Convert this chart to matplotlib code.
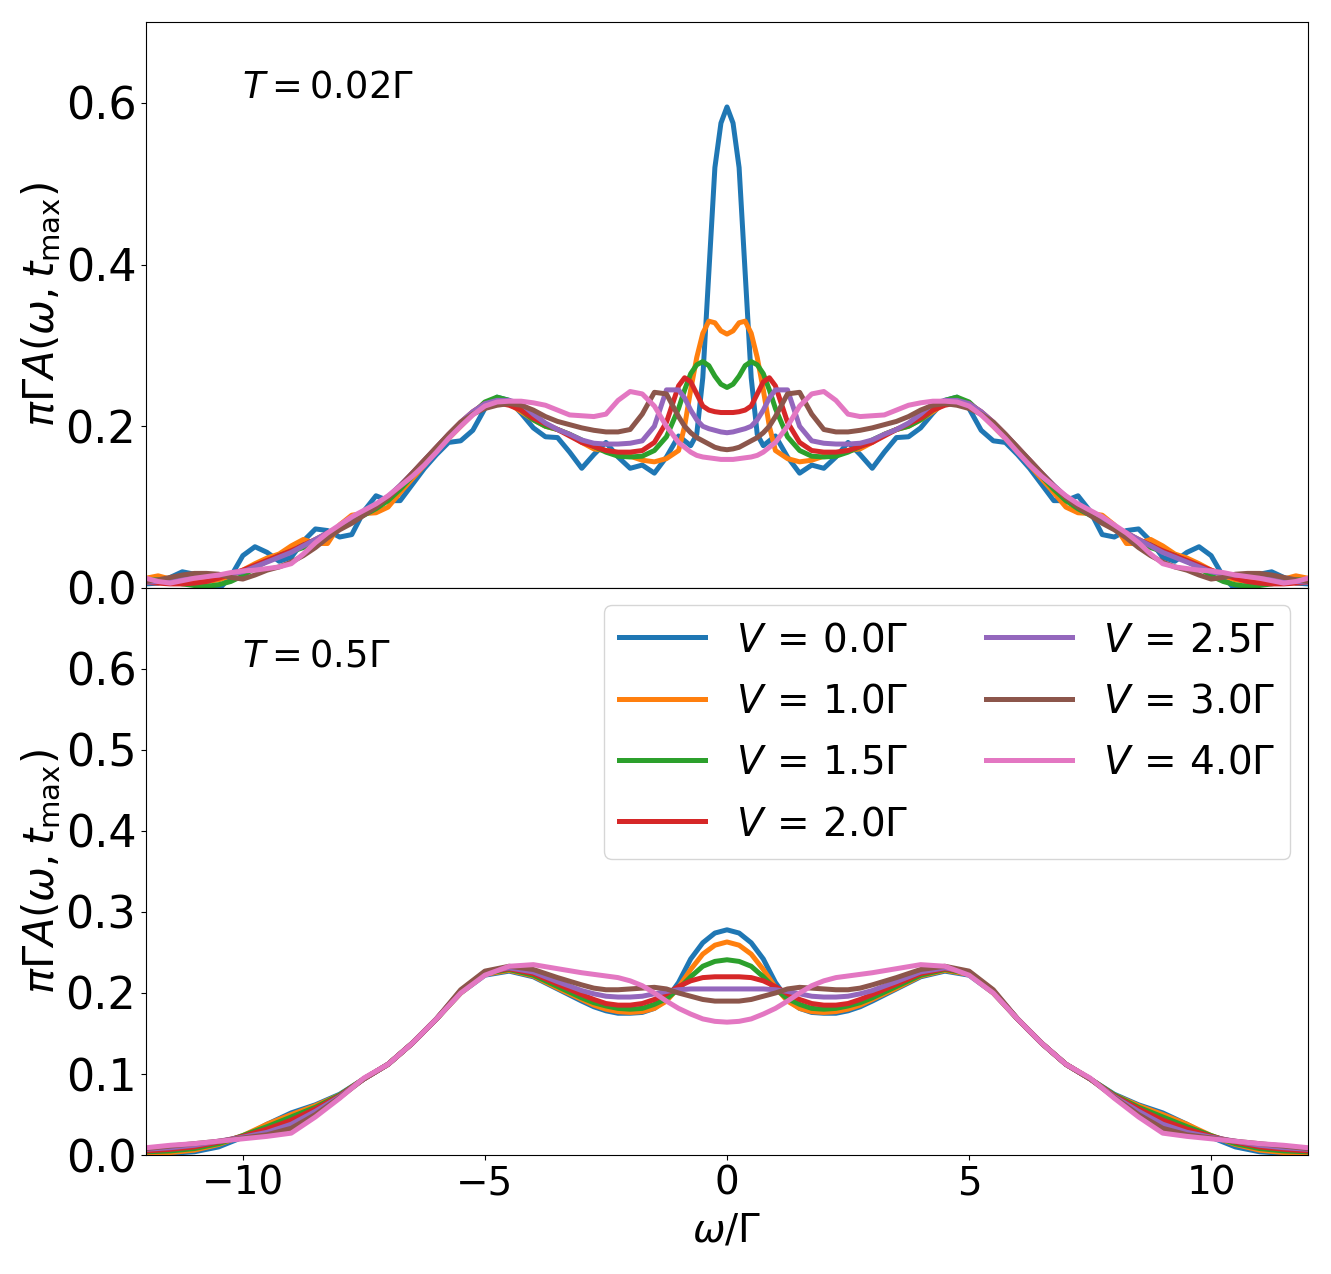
import numpy as np
import matplotlib
matplotlib.use('Agg')
import matplotlib.pyplot as plt

# frequency grids (omega / Gamma)
omega_top = np.r_[np.arange(-12, -1, 0.25), np.arange(-1, 1.0001, 0.125), np.arange(1.25, 12.0001, 0.25)]
omega_bot = np.r_[np.arange(-12, -3, 0.5), np.arange(-3, 3.0001, 0.25), np.arange(3.5, 12.0001, 0.5)]

v_labels = [r'$V\,=\,0.0\Gamma$', r'$V\,=\,1.0\Gamma$', r'$V\,=\,1.5\Gamma$', r'$V\,=\,2.0\Gamma$',
            r'$V\,=\,2.5\Gamma$', r'$V\,=\,3.0\Gamma$', r'$V\,=\,4.0\Gamma$']

# T = 0.02 Gamma
top_v00 = [.005, .006, .013, .020, .017, .004, -.002, .014, .040, .051, .044, .033, .038, .058, .073, .071,
           .063, .066, .095, .114, .108, .108, .128, .148, .165, .180, .182, .195, .222, .236, .232, .216,
           .198, .187, .186, .168, .148, .165, .180, .162, .148, .152, .142, .162,
           .188, .182, .176, .190, .260, .390, .520, .575, .595, .575, .520, .390, .260, .190, .176, .182, .188,
           .162, .142, .152, .148, .162, .180, .165, .148, .168, .186, .187, .198, .216, .232, .236, .222,
           .195, .182, .180, .165, .148, .128, .108, .108, .114, .095, .066, .063, .071, .073, .058, .038,
           .033, .044, .051, .040, .014, -.002, .004, .017, .020, .013, .006, .005]
top_v10 = [.012, .015, .011, .008, .008, .008, .010, .015, .022, .030, .037, .042, .052, .060, .055, .055,
           .078, .090, .092, .093, .100, .118, .135, .152, .170, .185, .200, .215, .228, .232, .228, .218,
           .208, .200, .196, .190, .180, .172, .170, .167, .163, .158, .156, .160,
           .170, .200, .245, .285, .315, .330, .328, .318, .314, .318, .328, .330, .315, .285, .245, .200, .170,
           .160, .156, .158, .163, .167, .170, .172, .180, .190, .196, .200, .208, .218, .228, .232, .228,
           .215, .200, .185, .170, .152, .135, .118, .100, .093, .092, .090, .078, .055, .055, .060, .052,
           .042, .037, .030, .022, .015, .010, .008, .008, .008, .011, .015, .012]
top_v15 = [.010, .010, .008, .005, .003, .002, .004, .008, .015, .025, .033, .040, .045, .050, .058, .066,
           .074, .082, .090, .098, .108, .122, .138, .155, .172, .188, .203, .216, .230, .236, .232, .220,
           .208, .200, .196, .190, .183, .175, .168, .163, .162, .163, .170, .187,
           .222, .245, .265, .276, .280, .275, .262, .252, .248, .252, .262, .275, .280, .276, .265, .245, .222,
           .187, .170, .163, .162, .163, .168, .175, .183, .190, .196, .200, .208, .220, .232, .236, .230,
           .216, .203, .188, .172, .155, .138, .122, .108, .098, .090, .082, .074, .066, .058, .050, .045,
           .040, .033, .025, .015, .008, .004, .002, .003, .005, .008, .010, .010]
top_v20 = [.007, .006, .005, .005, .006, .008, .012, .017, .022, .028, .034, .040, .046, .053, .060, .068,
           .075, .085, .094, .102, .112, .126, .142, .158, .174, .190, .205, .218, .228, .229, .226, .220,
           .210, .203, .196, .188, .180, .175, .170, .168, .168, .170, .180, .205,
           .250, .260, .255, .240, .225, .220, .218, .217, .217, .217, .218, .220, .225, .240, .255, .260, .250,
           .205, .180, .170, .168, .168, .170, .175, .180, .188, .196, .203, .210, .220, .226, .229, .228,
           .218, .205, .190, .174, .158, .142, .126, .112, .102, .094, .085, .075, .068, .060, .053, .046,
           .040, .034, .028, .022, .017, .012, .008, .006, .005, .005, .006, .007]
top_v25 = [.007, .008, .010, .012, .014, .015, .016, .017, .020, .026, .032, .038, .044, .052, .060, .068,
           .076, .085, .094, .103, .113, .127, .142, .158, .174, .190, .205, .218, .228, .232, .232, .228,
           .215, .204, .196, .190, .183, .179, .178, .178, .179, .182, .200, .245,
           .245, .235, .220, .208, .200, .197, .195, .193, .192, .193, .195, .197, .200, .208, .220, .235, .245,
           .245, .200, .182, .179, .178, .178, .179, .183, .190, .196, .204, .215, .228, .232, .232, .228,
           .218, .205, .190, .174, .158, .142, .127, .113, .103, .094, .085, .076, .068, .060, .052, .044,
           .038, .032, .026, .020, .017, .016, .015, .014, .012, .010, .008, .007]
top_v30 = [.008, .010, .013, .016, .018, .018, .017, .013, .011, .016, .022, .026, .032, .040, .050, .062,
           .072, .080, .090, .100, .112, .126, .142, .158, .174, .190, .205, .215, .222, .226, .228, .226,
           .220, .212, .206, .202, .198, .195, .193, .193, .196, .215, .242, .240,
           .212, .200, .192, .186, .182, .178, .174, .172, .171, .172, .174, .178, .182, .186, .192, .200, .212,
           .240, .242, .215, .196, .193, .193, .195, .198, .202, .206, .212, .220, .226, .228, .226, .222,
           .215, .205, .190, .174, .158, .142, .126, .112, .100, .090, .080, .072, .062, .050, .040, .032,
           .026, .022, .016, .011, .013, .017, .018, .018, .016, .013, .010, .008]
top_v40 = [.012, .008, .006, .009, .012, .014, .016, .019, .021, .022, .024, .026, .030, .042, .056, .068,
           .078, .088, .096, .104, .114, .126, .138, .152, .168, .185, .200, .214, .225, .230, .231, .231,
           .229, .226, .220, .214, .213, .212, .215, .232, .243, .240, .225, .200,
           .180, .174, .168, .164, .162, .161, .160, .159, .159, .159, .160, .161, .162, .164, .168, .174, .180,
           .200, .225, .240, .243, .232, .215, .212, .213, .214, .220, .226, .229, .231, .231, .230, .225,
           .214, .200, .185, .168, .152, .138, .126, .114, .104, .096, .088, .078, .068, .056, .042, .030,
           .026, .024, .022, .021, .019, .016, .014, .012, .009, .006, .008, .012]

# T = 0.5 Gamma
bot_v00 = [.001, .002, .004, .010, .022, .038, .052, .062, .075, .094, .112, .138, .168, .200, .222, .227, .220, .205,
           .190, .183, .178, .175, .175, .176, .181, .192, .213, .242, .262, .274, .278,
           .274, .262, .242, .213, .192, .181, .176, .175, .175, .178, .183, .190,
           .205, .220, .227, .222, .200, .168, .138, .112, .094, .075, .062, .052, .038, .022, .010, .004, .002, .001]
bot_v10 = [.002, .003, .006, .013, .024, .038, .050, .061, .074, .094, .112, .138, .168, .200, .223, .228, .221, .206,
           .192, .185, .180, .177, .176, .177, .181, .190, .207, .229, .248, .259, .263,
           .259, .248, .229, .207, .190, .181, .177, .176, .177, .180, .185, .192,
           .206, .221, .228, .223, .200, .168, .138, .112, .094, .074, .061, .050, .038, .024, .013, .006, .003, .002]
bot_v15 = [.004, .005, .008, .014, .024, .035, .047, .059, .074, .094, .112, .138, .168, .201, .224, .229, .222, .208,
           .194, .188, .184, .181, .180, .181, .186, .193, .205, .220, .233, .239, .241,
           .239, .233, .220, .205, .193, .186, .181, .180, .181, .184, .188, .194,
           .208, .222, .229, .224, .201, .168, .138, .112, .094, .074, .059, .047, .035, .024, .014, .008, .005, .004]
bot_v20 = [.005, .007, .010, .016, .023, .032, .043, .057, .073, .094, .112, .138, .168, .202, .225, .230, .224, .211,
           .198, .192, .187, .185, .185, .187, .192, .199, .208, .215, .219, .220, .220,
           .220, .219, .215, .208, .199, .192, .187, .185, .185, .187, .192, .198,
           .211, .224, .230, .225, .202, .168, .138, .112, .094, .073, .057, .043, .032, .023, .016, .010, .007, .005]
bot_v25 = [.007, .009, .012, .017, .022, .028, .038, .054, .072, .094, .112, .138, .168, .203, .226, .231, .226, .214,
           .203, .199, .196, .195, .195, .196, .199, .202, .204, .205, .205, .205, .205,
           .205, .205, .205, .204, .202, .199, .196, .195, .195, .196, .199, .203,
           .214, .226, .231, .226, .203, .168, .138, .112, .094, .072, .054, .038, .028, .022, .017, .012, .009, .007]
bot_v30 = [.008, .011, .014, .017, .021, .025, .033, .050, .071, .094, .112, .138, .168, .204, .227, .233, .229, .219,
           .210, .206, .204, .204, .205, .206, .207, .205, .200, .196, .192, .190, .190,
           .190, .192, .196, .200, .205, .207, .206, .205, .204, .204, .206, .210,
           .219, .229, .233, .227, .204, .168, .138, .112, .094, .071, .050, .033, .025, .021, .017, .014, .011, .008]
bot_v40 = [.009, .012, .014, .017, .020, .023, .027, .047, .070, .095, .112, .138, .168, .200, .222, .233, .235, .230,
           .225, .223, .221, .219, .215, .209, .200, .190, .181, .174, .168, .165, .164,
           .165, .168, .174, .181, .190, .200, .209, .215, .219, .221, .223, .225,
           .230, .235, .233, .222, .200, .168, .138, .112, .095, .070, .047, .027, .023, .020, .017, .014, .012, .009]

top_series = [top_v00, top_v10, top_v15, top_v20, top_v25, top_v30, top_v40]
bot_series = [bot_v00, bot_v10, bot_v15, bot_v20, bot_v25, bot_v30, bot_v40]
colors = ['#1f77b4', '#ff7f0e', '#2ca02c', '#d62728', '#9467bd', '#8c564b', '#e377c2']

fig = plt.figure(figsize=(13.31, 12.74), dpi=100)
ax1 = fig.add_axes([0.1097, 0.5385, 0.8730, 0.4442])
ax2 = fig.add_axes([0.1097, 0.0934, 0.8730, 0.4451], sharex=ax1)

for ys, c, lab in zip(top_series, colors, v_labels):
    ax1.plot(omega_top, ys, color=c, lw=3.6, label=lab)
for ys, c, lab in zip(bot_series, colors, v_labels):
    ax2.plot(omega_bot, ys, color=c, lw=3.6, label=lab)

ax1.set_xlim(-12, 12)
ax1.set_ylim(0, 0.7)
ax2.set_ylim(0, 0.7)
ax1.set_yticks([0.0, 0.2, 0.4, 0.6])
ax2.set_yticks([0.0, 0.1, 0.2, 0.3, 0.4, 0.5, 0.6])
ax2.set_xticks([-10, -5, 0, 5, 10])
ax1.tick_params(labelbottom=False)

for ax in (ax1, ax2):
    ax.tick_params(axis='y', labelsize=32)
    ax.tick_params(axis='x', labelsize=28)
    ax.set_ylabel(r'$\pi\Gamma A(\omega,t_{\max})$', fontsize=30, labelpad=2)

ax2.set_xlabel(r'$\omega/\Gamma$', fontsize=28, labelpad=6)

ax1.text(0.083, 0.885, r'$T=0.02\Gamma$', transform=ax1.transAxes, fontsize=26.5, va='center')
ax2.text(0.083, 0.88, r'$T=0.5\Gamma$', transform=ax2.transAxes, fontsize=26.5, va='center')

ax2.legend(loc='upper right', ncol=2, fontsize=28, handlelength=2.2, handletextpad=0.8,
           columnspacing=2.0, labelspacing=0.6, borderaxespad=0.45)

fig.savefig('out.png', dpi=100, facecolor='white')
